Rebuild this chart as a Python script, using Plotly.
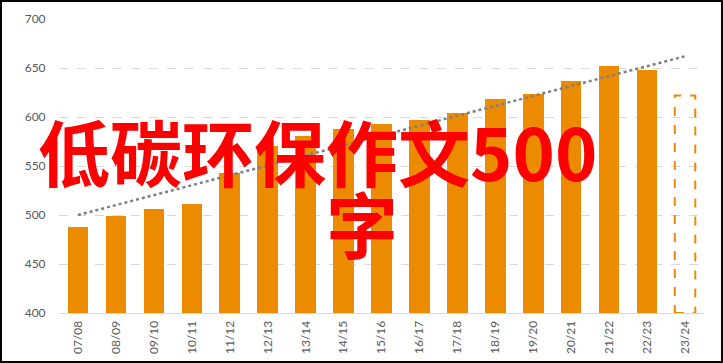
import plotly.graph_objects as go

seasons = ["07/08", "08/09", "09/10", "10/11", "11/12", "12/13", "13/14", "14/15",
           "15/16", "16/17", "17/18", "18/19", "19/20", "20/21", "21/22", "22/23", "23/24"]
values = [488, 499, 506, 511, 543, 570, 581, 588, 593, 597, 604, 618, 623, 637, 652, 648]
forecast_value = 622
trend_start = 500
trend_end = 662
y_ticks = [400, 450, 500, 550, 600, 650, 700]

W, H = 723, 363
ml, mr, mt, mb = 59, 19, 19, 50
orange = "#ED8B00"
bar_w = 0.54

fig = go.Figure()
xs = list(range(len(values)))
fig.add_trace(go.Bar(x=xs, y=values, marker=dict(color=orange, line=dict(width=0)),
                     width=bar_w, showlegend=False, hoverinfo="skip"))

fi = len(seasons) - 1
fig.add_shape(type="rect", xref="x", yref="y",
              x0=fi - bar_w / 2, x1=fi + bar_w / 2, y0=y_ticks[0], y1=forecast_value,
              line=dict(color=orange, width=2, dash="dash"), fillcolor="rgba(0,0,0,0)",
              layer="above")

fig.add_trace(go.Scatter(x=[0, fi], y=[trend_start, trend_end], mode="lines",
                         line=dict(color="#7f7f7f", width=2.5, dash="dot"),
                         showlegend=False, hoverinfo="skip"))

pw = W - ml - mr
ph = H - mt - mb
fig.add_shape(type="rect", xref="paper", yref="paper",
              x0=(-ml + 1) / pw, x1=(pw + mr - 1) / pw,
              y0=(-mb + 1) / ph, y1=(ph + mt - 1) / ph,
              line=dict(color="black", width=2), fillcolor="rgba(0,0,0,0)")

title_font = dict(family="Noto Sans CJK SC", size=72, color="#FF0000", weight="bold")
fig.add_annotation(x=(317 - ml) / pw, y=(H - mb - 149) / ph, xref="paper", yref="paper",
                   text="低碳环保作文500", showarrow=False, font=title_font,
                   xanchor="center", yanchor="middle")
fig.add_annotation(x=(362 - ml) / pw, y=(H - mb - 221) / ph, xref="paper", yref="paper",
                   text="字", showarrow=False, font=title_font,
                   xanchor="center", yanchor="middle")

tick_font = dict(family="Lato", size=12, color="#595959")
fig.update_layout(
    width=W, height=H,
    margin=dict(l=ml, r=mr, t=mt, b=mb, autoexpand=False),
    plot_bgcolor="white", paper_bgcolor="white",
    bargap=0,
    xaxis=dict(range=[-0.5, fi + 0.5], tickmode="array", tickvals=list(range(len(seasons))),
               ticktext=seasons, tickangle=-90, tickfont=tick_font, showgrid=False,
               showline=True, linecolor="#d9d9d9", linewidth=1, zeroline=False,
               ticks="outside", ticklen=2, tickcolor="rgba(0,0,0,0)", automargin=False),
    yaxis=dict(range=[y_ticks[0], y_ticks[-1]], tickmode="array", tickvals=y_ticks,
               tickfont=tick_font, showgrid=True, gridcolor="#d9d9d9", griddash="dash",
               gridwidth=1, zeroline=False, showline=False, automargin=False,
               ticks="outside", ticklen=10, tickcolor="rgba(0,0,0,0)"),
)

fig.write_html("out.html")
